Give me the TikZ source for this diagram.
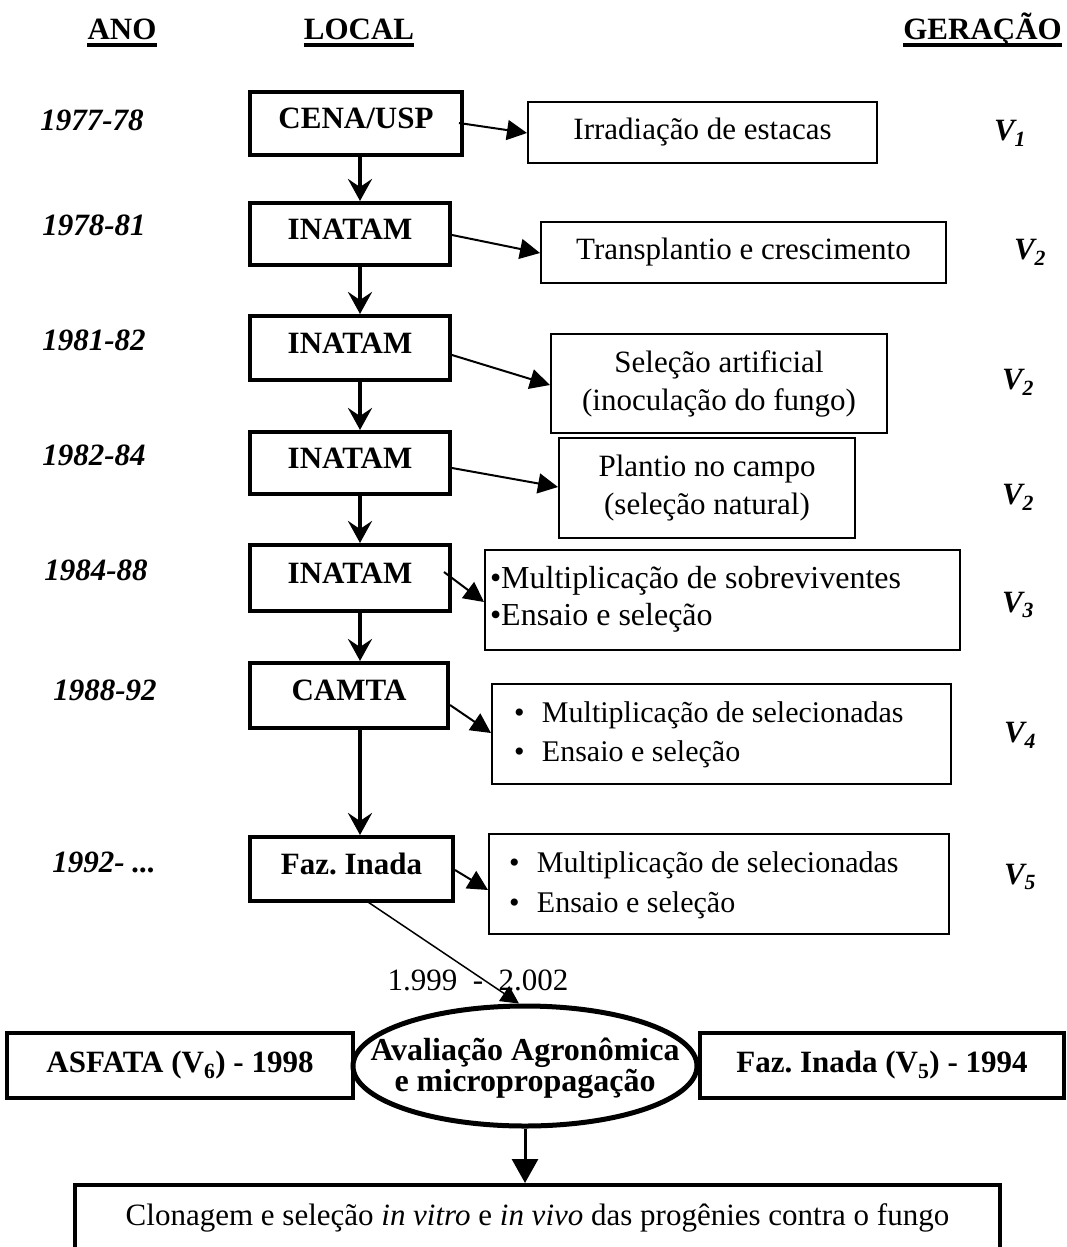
\documentclass[tikz,border=0pt]{standalone}
\usepackage{fontspec}
\setmainfont{Liberation Serif}
\usetikzlibrary{arrows.meta,calc,shapes.geometric}
\frenchspacing
\newcommand{\lines}[2][c]{\begin{tabular}{@{}#1@{}}#2\end{tabular}}
\begin{document}
\begin{tikzpicture}[x=1pt,y=-1pt,
  every node/.style={font=\fontsize{31}{38}\selectfont, inner sep=0pt},
  locbox/.style={draw, line width=4pt, font=\fontsize{31}{38}\selectfont\bfseries, text height=22pt, text depth=12pt},
  actbox/.style={draw, line width=2pt},
  yearlbl/.style={font=\fontsize{31}{38}\selectfont\bfseries\itshape},
  genlbl/.style={font=\fontsize{31}{38}\selectfont\bfseries\itshape},
  headlbl/.style={font=\fontsize{31}{38}\selectfont\bfseries, anchor=base},
  uline/.style={line width=4pt},
  varrow/.style={line width=3.5pt, -{Stealth[length=22pt,width=24pt,inset=8pt]}},
  harrow/.style={line width=2pt, -{Triangle[length=20pt,width=20pt]}},
  darrow/.style={line width=1.5pt, -{Triangle[length=18pt,width=18pt]}},
  barrow/.style={line width=3pt, -{Triangle[length=24pt,width=26pt]}},
  bottombox/.style={draw, line width=4pt, font=\fontsize{31}{38}\selectfont\bfseries},
]
\useasboundingbox (0,0) rectangle (1067,1247);

% headers
\node[headlbl] (ano) at (122,40) {ANO};
\node[headlbl] (local) at (359,40) {LOCAL};
\node[headlbl, anchor=base east] (ger) at (1062,40) {GERAÇÃO};
\draw[uline] ($(ano.base west)+(0,5)$) -- ($(ano.base east)+(0,5)$);
\draw[uline] ($(local.base west)+(0,5)$) -- ($(local.base east)+(0,5)$);
\draw[uline] ($(ger.base west)+(0,5)$) -- ($(ger.base east)+(0,5)$);

% years
\node[yearlbl] (y1) at (92,120) {1977-78};
\node[yearlbl] (y2) at (94,225) {1978-81};
\node[yearlbl] (y3) at (94,340) {1981-82};
\node[yearlbl] (y4) at (94,455) {1982-84};
\node[yearlbl] (y5) at (96,570) {1984-88};
\node[yearlbl] (y6) at (105,690) {1988-92};
\node[yearlbl] (y7) at (104,862) {1992- ...};

% local boxes
\node[locbox, minimum width=212pt, minimum height=63pt] (cena) at (356,123.5) {CENA/USP};
\node[locbox, minimum width=200pt, minimum height=62pt] (in1) at (350,234) {INATAM};
\node[locbox, minimum width=200pt, minimum height=64pt] (in2) at (350,348) {INATAM};
\node[locbox, minimum width=200pt, minimum height=62pt] (in3) at (350,463) {INATAM};
\node[locbox, minimum width=200pt, minimum height=66pt] (in4) at (350,578) {INATAM};
\node[locbox, minimum width=198pt, minimum height=65pt] (camta) at (349,695.5) {CAMTA};
\node[locbox, minimum width=203pt, minimum height=64pt] (faz) at (351.5,869) {Faz. Inada};

% activity boxes
\node[actbox, minimum width=349pt, minimum height=61pt] (irr) at (702.5,132.5) {Irradiação de estacas};
\node[actbox, minimum width=405pt, minimum height=61pt] (trans) at (743.5,252.5) {Transplantio e crescimento};
\node[actbox, minimum width=336pt, minimum height=99pt] (sel) at (719,383.5) {\lines{Seleção artificial\\(inoculação do fungo)}};
\node[actbox, minimum width=296pt, minimum height=100pt] (plan) at (707,488) {\lines{Plantio no campo\\(seleção natural)}};
\node[actbox, minimum height=100pt, inner xsep=5pt, font=\fontsize{32}{37}\selectfont] (mult1) at (722.5,600)
  {\makebox[465pt][l]{\lines[l]{•Multiplicação de sobreviventes\\•Ensaio e seleção}}};
\node[actbox, minimum height=100pt, inner xsep=22pt, font=\fontsize{30}{39}\selectfont] (mult2) at (721.5,734)
  {\makebox[415pt][l]{\lines[l]{\makebox[28pt][l]{•}Multiplicação de selecionadas\\\makebox[28pt][l]{•}Ensaio e seleção}}};
\node[actbox, minimum height=100pt, inner xsep=20pt, font=\fontsize{30}{40}\selectfont] (mult3) at (719,884)
  {\makebox[420pt][l]{\lines[l]{\makebox[28pt][l]{•}Multiplicação de selecionadas\\\makebox[28pt][l]{•}Ensaio e seleção}}};

% generation labels
\node[genlbl] (g1) at (1010,133) {V\textsubscript{1}};
\node[genlbl] (g2) at (1030,252) {V\textsubscript{2}};
\node[genlbl] (g3) at (1018,382) {V\textsubscript{2}};
\node[genlbl] (g4) at (1018,497) {V\textsubscript{2}};
\node[genlbl] (g5) at (1018,605) {V\textsubscript{3}};
\node[genlbl] (g6) at (1020,735) {V\textsubscript{4}};
\node[genlbl] (g7) at (1020,877) {V\textsubscript{5}};

% vertical arrows
\draw[varrow] ($(cena.south)+(4,0)$) -- ($(in1.north)+(10,0)$);
\draw[varrow] ($(in1.south)+(10,0)$) -- ($(in2.north)+(10,0)$);
\draw[varrow] ($(in2.south)+(10,0)$) -- ($(in3.north)+(10,0)$);
\draw[varrow] ($(in3.south)+(10,0)$) -- ($(in4.north)+(10,0)$);
\draw[varrow] ($(in4.south)+(10,0)$) -- ($(camta.north)+(11,0)$);
\draw[varrow] ($(camta.south)+(11,0)$) -- ($(faz.north)+(8.5,0)$);

% horizontal arrows
\draw[harrow] ($(cena.east)+(-5,-0.5)$) -- ($(irr.west)+(0,0.5)$);
\draw[harrow] ($(in1.east)+(0,1)$) -- ($(trans.west)+(0,0.5)$);
\draw[harrow] ($(in2.east)+(0,7)$) -- ($(sel.west)+(0,1.5)$);
\draw[harrow] ($(in3.east)+(0,5)$) -- ($(plan.west)+(0,-1)$);
\draw[harrow] ($(in4.east)+(-8,-6)$) -- ($(mult1.west)+(0,2)$);
\draw[harrow] ($(camta.east)+(0,9.5)$) -- ($(mult2.west)+(0,-1)$);
\draw[harrow] ($(faz.east)+(0,1)$) -- ($(mult3.west)+(0,6)$);

% bottom part
\node[draw, ellipse, line width=5pt, minimum width=344pt, minimum height=120pt] (ell) at (525,1066) {};
\node[font=\fontsize{32}{30}\selectfont\bfseries] (elltxt) at (525,1069)
  {\lines{Avaliação Agronômica\\e micropropagação}};
\node[bottombox, minimum width=346pt, minimum height=65pt] (asf) at (180,1065.5) {ASFATA (V\textsubscript{6}) - 1998};
\node[bottombox, minimum width=364pt, minimum height=65pt] (fazb) at (882,1065.5) {Faz. Inada (V\textsubscript{5}) - 1994};
\node (per) at (478,980) {1.999~~-~~2.002};
\draw[darrow] ($(faz.south)+(13.5,-3)$) -- ($(ell.north)+(-6,0)$);

\node[draw, line width=4pt, minimum width=925pt, minimum height=65pt] (clon) at (537.5,1217.5)
  {Clonagem e seleção \textit{in vitro} e \textit{in vivo} das progênies contra o fungo};
\draw[barrow] (ell.south) -- (ell.south |- clon.north);
\end{tikzpicture}
\end{document}
